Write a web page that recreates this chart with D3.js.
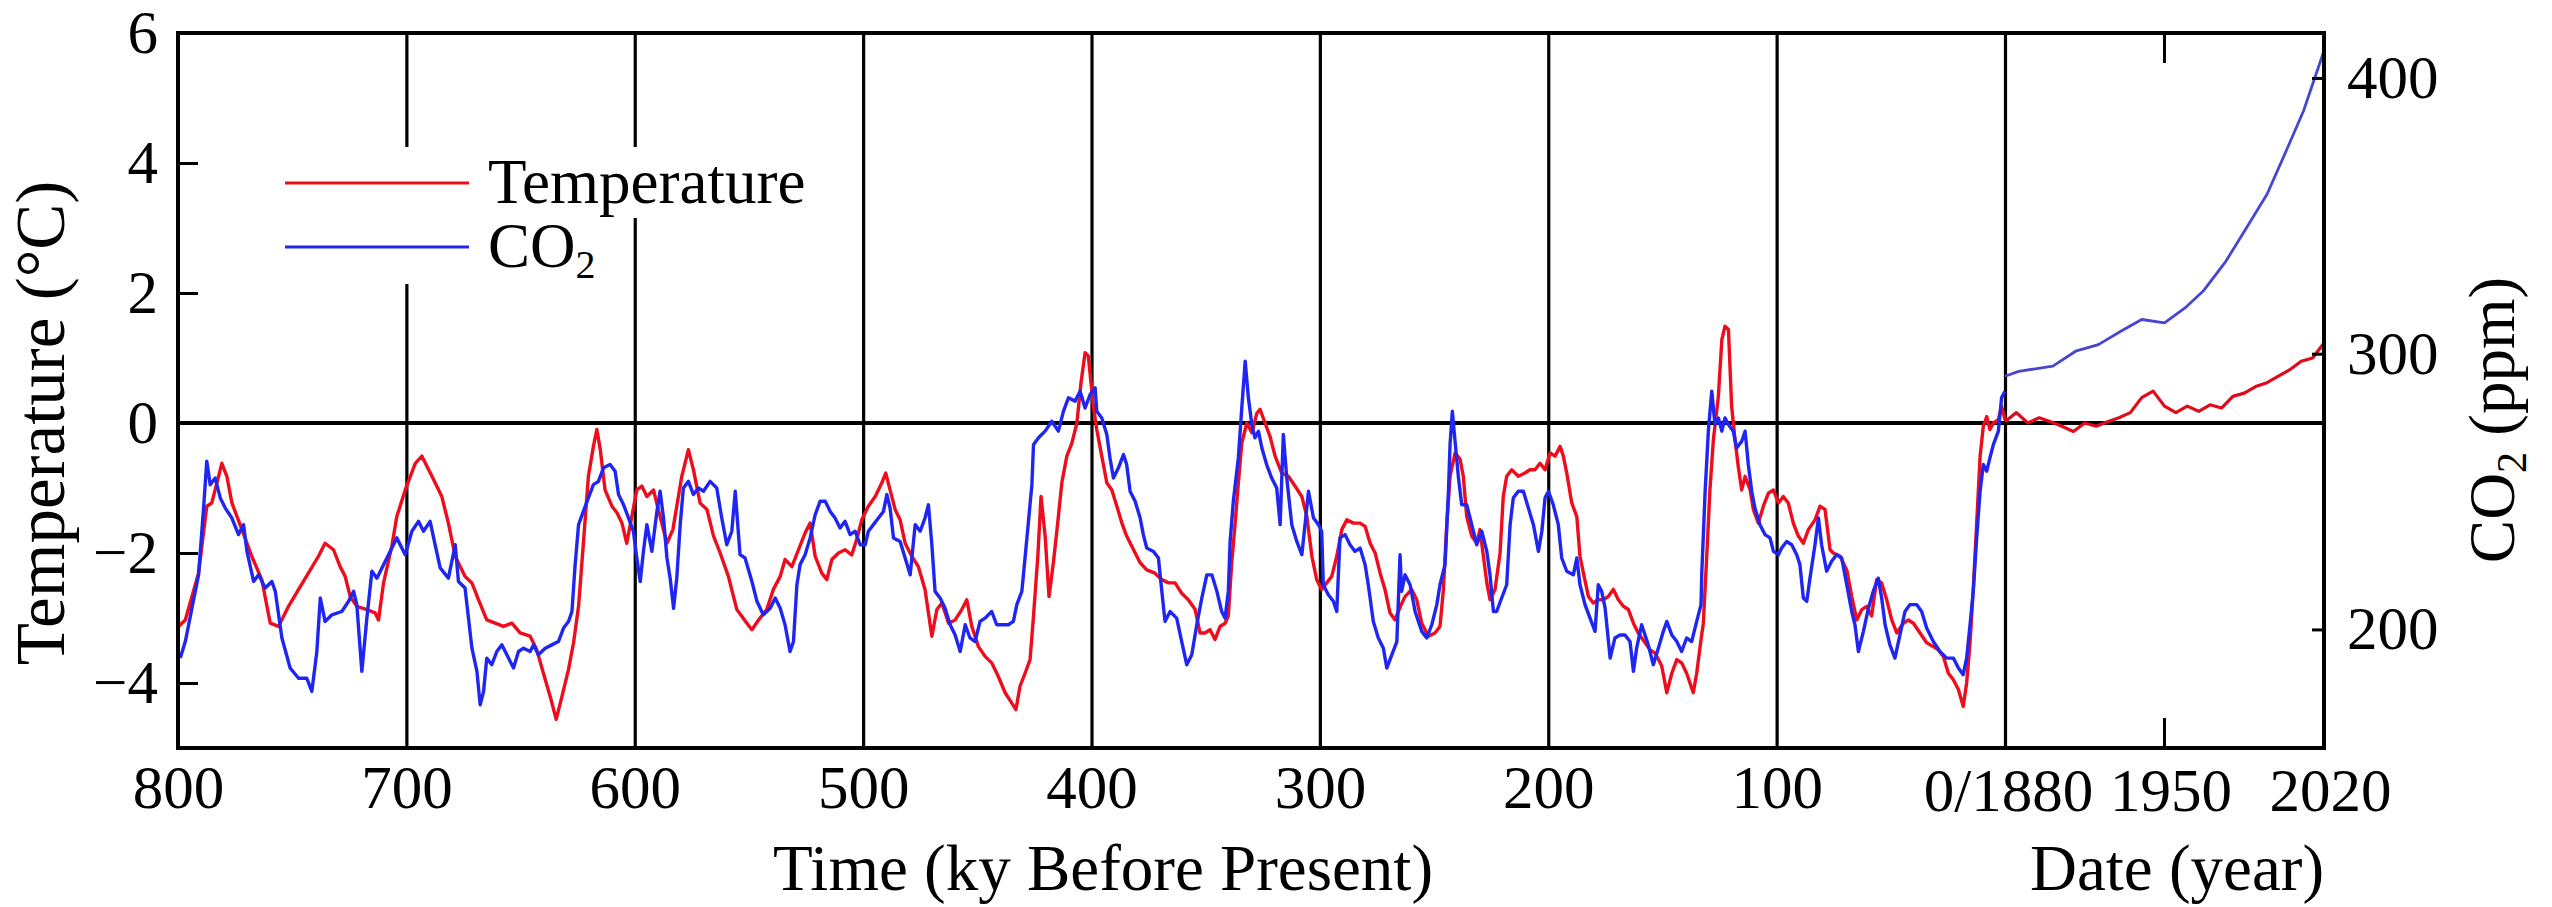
<!DOCTYPE html>
<html><head><meta charset="utf-8">
<script src="https://cdn.jsdelivr.net/npm/d3@7"></script>
<style>
body{margin:0;background:#fff}
svg{display:block}
text{font-family:"Liberation Serif","Times New Roman",serif;fill:#000}
</style>
</head><body>
<svg id="chart" width="2552" height="907"></svg>
<script>
// ---- Paleo temperature (ky before present, °C) ----
const kyTemp = [799.8,796.8,791.0,787.4,785.2,780.8,778.6,776.4,772.0,767.7,763.3,759.6,756.0,751.6,747.2,742.9,738.5,735.6,731.9,729.0,726.8,724.6,721.7,717.3,713.7,712.2,710.0,706.4,704.2,700.5,696.1,693.2,688.8,684.5,681.6,678.6,674.3,671.3,668.4,
664.8,661.1,657.5,653.8,650.2,645.8,642.9,640.0,637.0,634.4,631.9,629.0,626.8,624.6,622.5,620.3,618.1,616.6,615.1,613.0,610.0,607.8,605.6,603.5,601.3,599.1,596.9,594.7,591.8,588.9,585.9,583.3,581.6,579.4,576.5,574.3,571.4,568.4,565.5,562.6,559.0,555.3,550.9,548.7,545.8,542.2,539.3,536.3,
534.2,531.2,528.3,525.4,523.2,521.0,518.1,515.9,513.7,510.8,507.9,505.0,502.8,500.6,497.7,494.7,491.8,490.1,488.2,486.0,483.8,481.6,478.7,475.8,472.9,469.9,467.7,465.5,462.6,459.7,456.8,454.6,452.4,449.5,446.6,443.7,440.8,437.8,434.9,433.1,431.3,429.1,426.9,425.4,423.5,422.1,420.3,418.6,416.7,414.8,413.0,410.8,408.6,406.4,404.6,402.8,401.4,
399.2,397.7,395.5,393.3,391.1,388.9,386.7,384.6,381.6,378.7,375.8,372.2,369.2,366.3,363.4,360.5,357.6,354.6,352.5,350.3,348.1,345.9,343.7,341.5,340.1,338.6,337.1,335.7,334.2,332.0,329.8,327.6,326.2,324.0,321.8,319.6,316.7,313.8,310.9,307.9,305.7,303.5,301.4,299.2,297.0,294.8,292.6,290.4,288.2,285.3,282.4,280.2,278.0,275.8,273.6,271.5,269.3,267.1,
264.5,262.7,259.8,257.6,255.4,252.5,249.6,247.4,245.9,244.4,243.0,240.8,238.6,237.2,235.7,233.5,231.3,229.9,228.4,226.9,225.5,223.3,221.1,219.7,218.2,216.0,213.1,210.2,208.0,205.8,203.6,201.4,199.2,197.0,194.8,193.4,191.9,189.7,187.5,186.1,184.6,182.4,180.3,178.1,175.9,173.7,171.5,169.3,167.1,164.9,162.7,160.6,157.6,155.4,153.2,150.3,148.1,145.9,143.7,141.6,139.4,136.5,135.0,133.1,
132.1,130.6,129.2,127.7,125.5,124.0,122.6,121.1,119.7,118.2,116.8,115.3,113.8,111.6,110.2,108.0,105.8,103.6,101.4,99.2,97.1,94.9,92.7,90.5,88.3,86.1,83.2,81.0,78.8,76.6,75.2,72.2,69.3,67.1,64.9,62.7,60.6,58.4,56.2,54.0,51.8,49.6,47.4,44.5,42.3,40.1,37.2,34.3,31.4,29.2,27.0,24.8,22.6,20.4,18.3,16.8,15.3,13.9,12.4,10.9,9.5,8.0,6.6,5.1,2.9,1.5,0];
const tempPaleo = [-3.13,-3.03,-2.31,-1.28,-1.23,-0.62,-0.82,-1.23,-1.64,-2.05,-2.41,-3.08,-3.13,-2.82,-2.56,-2.31,-2.05,-1.85,-1.95,-2.21,-2.36,-2.67,-2.82,-2.87,-2.92,-3.03,-2.46,-1.90,-1.44,-1.03,-0.62,-0.51,-0.82,-1.13,-1.54,-2.05,-2.36,-2.46,-2.72,
-3.03,-3.08,-3.13,-3.08,-3.23,-3.28,-3.49,-3.85,-4.21,-4.56,-4.21,-3.79,-3.38,-2.82,-1.85,-0.82,-0.36,-0.10,-0.41,-1.03,-1.28,-1.38,-1.54,-1.85,-1.44,-1.03,-0.97,-1.13,-1.03,-1.44,-1.85,-1.64,-1.28,-0.82,-0.41,-0.72,-1.23,-1.33,-1.74,-2.0,-2.36,-2.87,-3.08,-3.18,-3.03,-2.87,-2.56,-2.36,
-2.10,-2.21,-1.95,-1.69,-1.54,-2.05,-2.31,-2.41,-2.10,-2.0,-1.95,-2.03,-1.79,-1.49,-1.28,-1.13,-0.92,-0.77,-1.03,-1.33,-1.49,-1.85,-2.05,-2.21,-2.56,-3.28,-2.87,-2.77,-3.08,-3.03,-2.87,-2.72,-3.13,-3.44,-3.59,-3.69,-3.90,-4.15,-4.31,-4.41,-4.05,-3.85,-3.64,-2.97,-2.05,-1.13,-1.74,-2.67,-2.15,-1.54,-0.92,-0.51,-0.31,0.0,0.62,1.08,1.03,
0.26,-0.10,-0.51,-0.92,-1.03,-1.28,-1.54,-1.74,-1.95,-2.15,-2.26,-2.31,-2.41,-2.46,-2.46,-2.62,-2.72,-2.87,-3.23,-3.23,-3.18,-3.33,-3.13,-3.08,-2.97,-2.15,-1.54,-0.92,-0.31,0.0,-0.15,0.15,0.21,0.0,-0.21,-0.51,-0.77,-0.82,-0.97,-1.13,-1.44,-2.05,-2.41,-2.56,-2.46,-2.36,-2.05,-1.64,-1.49,-1.54,-1.54,-1.59,-1.85,-2.0,-2.31,-2.56,-2.92,-3.03,
-2.80,-2.67,-2.56,-2.72,-3.08,-3.28,-3.23,-3.13,-2.56,-1.54,-0.82,-0.46,-0.56,-0.82,-1.44,-1.74,-1.85,-1.64,-2.05,-2.46,-2.72,-2.56,-2.0,-1.13,-0.82,-0.72,-0.82,-0.77,-0.72,-0.72,-0.62,-0.72,-0.46,-0.51,-0.36,-0.51,-0.77,-1.23,-1.44,-2.05,-2.31,-2.67,-2.77,-2.72,-2.72,-2.67,-2.56,-2.72,-2.82,-2.87,-3.08,-3.23,-3.38,-3.49,-3.54,-3.74,-4.15,-3.85,-3.64,-3.69,-3.85,-4.15,-3.85,-3.33,
-3.08,-2.05,-1.03,-0.26,0.41,1.28,1.49,1.44,0.26,-0.26,-0.67,-1.03,-0.82,-1.03,-1.33,-1.54,-1.28,-1.08,-1.03,-1.23,-1.13,-1.23,-1.54,-1.74,-1.85,-1.64,-1.49,-1.28,-1.33,-1.95,-2.0,-2.05,-2.26,-2.67,-3.03,-2.87,-2.82,-2.97,-2.41,-2.46,-2.72,-3.03,-3.23,-3.08,-3.03,-3.08,-3.23,-3.38,-3.44,-3.49,-3.59,-3.85,-3.95,-4.10,-4.36,-4.0,-3.38,-2.56,-1.54,-0.51,-0.05,0.10,-0.10,0.0,0.05,0.26,0.05];

// ---- Paleo CO2 (ky before present, ppm) ----
const kyCo2 = [799.0,796.8,793.9,791.0,788.8,787.4,785.9,783.7,781.5,779.3,776.4,773.5,771.3,769.8,766.9,764.7,761.8,758.9,757.4,754.5,750.9,747.2,743.6,741.4,739.2,737.7,735.6,732.6,728.3,725.3,723.1,721.7,719.5,717.3,715.1,712.9,710.0,707.1,704.2,700.5,697.6,694.7,692.5,689.6,687.4,685.2,681.6,678.6,677.2,674.3,671.3,669.1,667.7,
666.2,664.8,662.6,660.4,658.2,656.0,653.1,650.9,648.7,645.8,644.3,642.2,639.2,636.3,633.4,631.2,629.0,627.5,626.1,624.6,622.5,620.3,618.1,615.9,613.7,610.8,608.6,607.1,604.9,602.7,600.6,599.1,597.6,596.2,594.7,592.5,590.3,588.9,587.4,585.9,584.5,583.0,581.6,580.1,578.7,576.5,574.3,572.1,569.9,567.0,564.1,561.9,559.7,557.5,556.0,553.9,551.7,548.7,546.5,543.7,540.7,538.5,536.3,
534.2,532.0,530.5,529.0,527.6,525.4,523.2,521.0,518.8,516.6,514.4,512.3,510.1,507.9,505.7,503.5,501.3,499.1,497.7,495.5,493.3,491.1,489.6,488.2,486.7,483.8,481.6,479.4,477.2,475.0,472.9,471.4,469.9,468.5,466.3,464.1,461.9,459.7,457.5,455.3,453.2,451.0,448.8,446.6,443.7,441.5,439.3,436.4,434.2,432.7,430.5,429.1,427.6,426.1,425.4,423.2,420.3,417.4,414.5,412.3,410.1,407.2,405.0,402.8,400.6,398.4,
397.7,395.5,393.3,391.9,390.4,388.2,386.0,384.6,383.1,380.9,378.7,377.3,375.8,372.9,370.7,369.2,367.8,365.6,362.7,360.5,358.3,356.1,353.9,351.7,349.5,347.3,345.1,343.0,341.5,340.1,339.3,337.9,335.7,334.2,332.7,331.3,329.8,328.4,326.9,325.4,323.3,321.1,318.9,317.4,316.0,314.5,312.3,310.1,307.9,306.5,305.0,302.8,300.6,299.2,298.5,296.3,294.1,292.6,291.2,289.0,286.8,284.6,282.4,280.2,278.8,276.6,274.4,272.2,270.7,268.5,266.3,
264.9,264.2,262.7,260.5,258.3,255.4,253.2,251.0,248.8,247.4,245.2,243.7,243.0,242.0,240.8,239.3,237.9,235.7,233.5,231.3,229.1,226.9,225.5,224.0,222.6,220.4,218.2,216.7,215.3,213.1,210.9,208.7,206.5,204.3,202.8,201.4,199.9,197.8,195.6,194.1,191.9,189.0,187.5,186.1,183.9,181.7,179.5,178.1,176.6,175.1,172.9,170.8,168.6,166.4,164.2,162.7,161.3,159.1,156.2,154.0,151.8,149.6,148.1,145.9,143.7,141.6,139.4,137.2,135.0,133.1,
132.8,131.3,129.9,128.4,127.0,125.5,124.0,122.6,121.1,119.0,117.5,115.3,113.8,112.4,110.9,109.5,107.3,105.1,102.9,101.4,99.2,97.8,95.6,93.4,91.2,89.8,88.3,86.8,85.4,83.2,81.7,80.3,78.1,75.9,73.7,71.5,69.3,67.1,65.7,64.2,62.0,59.8,57.7,55.5,54.0,52.5,50.4,48.2,46.0,43.8,41.6,38.7,36.5,34.3,31.4,28.5,25.5,22.6,20.4,18.3,16.8,15.3,13.9,12.4,10.9,9.5,8.0,6.6,5.1,2.9,1.5,0];
const co2Paleo = [189.6,195.6,207.7,219.8,244.0,261.0,252.5,254.9,247.7,244.0,240.4,234.4,238.0,228.3,217.4,219.8,215.0,217.4,213.8,196.9,186.0,182.3,182.3,177.5,192.0,211.4,202.9,205.3,206.5,210.2,213.8,209.0,184.8,204.1,221.1,218.6,223.5,228.3,233.2,227.1,235.6,239.2,235.6,239.2,230.7,222.3,218.6,230.7,217.4,215.0,193.2,184.8,172.7,
177.5,189.6,187.2,192.0,194.4,190.8,186.0,192.0,193.2,192.0,194.4,190.8,193.2,194.4,195.6,200.5,202.9,206.5,223.5,238.0,242.8,247.7,252.5,253.7,258.6,259.8,257.4,248.9,245.2,240.4,235.6,225.9,217.4,228.3,238.0,228.3,242.8,250.1,240.4,225.9,218.6,207.7,218.6,238.0,251.3,253.7,248.9,251.3,250.1,253.7,251.3,240.4,230.7,235.6,250.1,227.1,225.9,217.4,210.2,205.3,207.7,211.4,207.7,
201.7,192.0,195.6,216.2,223.5,227.1,233.2,241.6,246.5,246.5,242.8,240.4,236.8,239.2,234.4,235.6,230.7,230.7,235.6,238.0,240.4,242.8,248.9,244.0,233.2,231.9,225.9,219.8,238.0,235.6,240.4,245.2,230.7,213.8,211.4,207.7,201.7,198.0,192.0,201.7,196.9,195.6,202.9,204.1,206.5,201.7,201.7,201.7,202.9,209.0,213.8,225.9,239.2,252.5,267.0,269.5,271.9,275.5,271.9,279.1,284.0,282.8,286.4,280.3,285.2,287.6,
279.1,276.7,270.7,262.2,254.9,258.6,263.4,259.8,250.1,246.5,240.4,234.4,229.5,228.3,225.9,213.8,202.9,206.5,204.1,195.6,187.2,190.8,201.7,211.4,219.8,219.8,213.8,206.5,204.1,213.8,231.9,246.5,262.2,280.3,297.3,284.0,274.3,269.5,271.9,265.8,259.8,254.9,251.3,238.0,270.7,254.9,238.0,231.9,227.1,238.0,250.1,240.4,238.0,235.6,216.2,212.6,210.2,206.5,233.2,234.4,230.7,228.3,229.5,223.5,216.2,202.9,196.9,193.2,186.0,190.8,195.6,
227.1,213.8,219.8,216.2,206.5,199.3,196.9,201.7,209.0,216.2,223.5,250.1,267.0,279.1,268.2,254.9,245.2,245.2,238.0,230.7,235.6,228.3,219.8,206.5,206.5,211.4,216.2,238.0,247.7,250.1,250.1,244.0,238.0,228.3,235.6,247.7,250.1,245.2,238.0,225.9,221.1,219.8,225.9,216.2,209.0,204.1,199.3,216.2,213.8,207.7,189.6,196.9,198.0,198.0,195.6,184.8,193.2,201.7,194.4,187.2,193.2,199.3,202.9,198.0,195.6,192.0,196.9,195.6,202.9,209.0,
219.8,250.1,271.9,286.4,274.3,276.7,271.9,276.7,274.3,271.9,265.8,268.2,271.9,259.8,250.1,244.0,238.0,234.4,233.2,228.3,227.1,229.5,231.9,230.7,227.1,223.5,211.4,210.2,218.6,230.7,240.4,230.7,221.1,224.7,227.1,225.9,216.2,206.5,201.7,192.0,199.3,207.7,213.8,218.6,211.4,201.7,194.4,189.6,198.0,206.5,209.0,209.0,206.5,200.5,195.6,192.0,189.6,189.6,186.0,183.6,189.6,201.7,213.8,233.2,250.1,259.8,257.4,262.2,267.0,271.9,284.0,286.4];

// ---- Instrumental period (year) ----
const yearsTemp = [1880,1885,1890,1895,1900,1905,1910,1915,1920,1925,1930,1935,1940,1945,1950,1955,1960,1965,1970,1975,1980,1985,1990,1995,2000,2005,2010,2015,2020];
const tempModern = [0.02,0.16,0.0,0.08,0.02,-0.05,-0.13,0.0,-0.05,0.02,0.08,0.16,0.39,0.49,0.26,0.16,0.26,0.18,0.28,0.23,0.41,0.46,0.56,0.62,0.72,0.82,0.95,1.0,1.23];
const yearsCo2 = [1880,1886,1901,1911,1921,1931,1940,1950,1959,1967,1977,1986,1995,2004,2011,2019,2020];
const co2Modern = [291.8,293.6,295.5,300.9,303.3,308.2,312.4,311.2,316.6,322.7,333.6,345.7,357.8,374.7,388.0,407.4,410.0];

// ---- Axis ticks / labels ----
const tempTicks = [6,4,2,0,-2,-4];
const kyTicks = [800,700,600,500,400,300,200,100];
const kyGrid = [700,600,500,400,300,200,100,0];
const yearTicks = [1880,1950,2020];
const co2Ticks = [400,300,200];

// ---- Layout ----
const L = 178, R = 2324, T = 33, B = 748, XZ = 2005;
const svg = d3.select("#chart");
svg.append("rect").attr("width",2552).attr("height",907).attr("fill","#fff");

const xKy = d3.scaleLinear().domain([800,0]).range([L,XZ]);
const xYr = d3.scaleLinear().domain([1880,2020]).range([XZ,R]);
const yT = d3.scaleLinear().domain([-5,6]).range([B,T]);
const yC = d3.scaleLinear().domain([157,416.3]).range([B,T]);

const FS = 61;

// gridlines (vertical)
const grid = svg.append("g").attr("transform",`translate(0,${B})`)
  .call(d3.axisBottom(xKy).tickValues(kyGrid).tickSize(-(B-T)).tickFormat(""));
grid.select(".domain").remove();
grid.selectAll("line").attr("stroke","#000").attr("stroke-width",3.2);

// 1950 small ticks top & bottom
[[B,-30],[T,30]].forEach(([yy,len])=>{
  svg.append("line").attr("x1",xYr(1950)).attr("x2",xYr(1950))
    .attr("y1",yy).attr("y2",yy+len).attr("stroke","#000").attr("stroke-width",3);
});

// zero line
svg.append("line").attr("x1",L).attr("x2",R).attr("y1",yT(0)).attr("y2",yT(0))
  .attr("stroke","#000").attr("stroke-width",4);

// Legend backgrounds (hide gridlines behind legend)
svg.append("rect").attr("x",268).attr("y",147).attr("width",210).attr("height",137).attr("fill","#fff");
svg.append("rect").attr("x",480).attr("y",147).attr("width",356).attr("height",71).attr("fill","#fff");
svg.append("rect").attr("x",480).attr("y",218).attr("width",125).attr("height",66).attr("fill","#fff");

// Data lines
const line = d3.line().x(d=>d[0]).y(d=>d[1]);
const tempPts = kyTemp.map((k,i)=>[xKy(k), yT(tempPaleo[i])]);
const co2Pts = kyCo2.map((k,i)=>[xKy(k), yC(co2Paleo[i])]);
const tempModPts = yearsTemp.map((y,i)=>[xYr(y), yT(tempModern[i])]);
const co2ModPts = yearsCo2.map((y,i)=>[xYr(y), yC(co2Modern[i])]);

svg.append("path").attr("d",line(tempPts)).attr("fill","none").attr("stroke","#ee0d1c").attr("stroke-width",3.4).attr("stroke-linejoin","round");
svg.append("path").attr("d",line(co2Pts)).attr("fill","none").attr("stroke","#2026f2").attr("stroke-width",3.4).attr("stroke-linejoin","round");
svg.append("path").attr("d",line(tempModPts)).attr("fill","none").attr("stroke","#e00a1a").attr("stroke-width",3.2).attr("stroke-linejoin","round");
svg.append("path").attr("d",line(co2ModPts)).attr("fill","none").attr("stroke","#4646d2").attr("stroke-width",2.8).attr("stroke-linejoin","round");

// Frame
svg.append("rect").attr("x",L).attr("y",T).attr("width",R-L).attr("height",B-T)
  .attr("fill","none").attr("stroke","#000").attr("stroke-width",4);

// Left axis
const ax = svg.append("g").attr("transform",`translate(${L},0)`)
  .call(d3.axisLeft(yT).tickValues(tempTicks).tickSize(-20).tickPadding(20));
ax.select(".domain").remove();
ax.selectAll("line").attr("stroke","#000").attr("stroke-width",3);
ax.selectAll("text").attr("font-size",FS).attr("font-family","Liberation Serif");

// Right axis
const ar = svg.append("g").attr("transform",`translate(${R},0)`)
  .call(d3.axisRight(yC).tickValues(co2Ticks).tickSize(-12).tickPadding(23));
ar.select(".domain").remove();
ar.selectAll("line").attr("stroke","#000").attr("stroke-width",3);
ar.selectAll("text").attr("font-size",FS).attr("font-family","Liberation Serif");

// Bottom axis (ky)
const ab = svg.append("g").attr("transform",`translate(0,${B})`)
  .call(d3.axisBottom(xKy).tickValues(kyTicks).tickSize(0).tickPadding(17));
ab.select(".domain").remove();
ab.selectAll("text").attr("font-size",FS).attr("font-family","Liberation Serif");

// Bottom axis (years)
const ay = svg.append("g").attr("transform",`translate(0,${B})`)
  .call(d3.axisBottom(xYr).tickValues(yearTicks).tickSize(0).tickPadding(20)
    .tickFormat(d=> d===1880 ? "0/1880" : String(d)));
ay.select(".domain").remove();
ay.selectAll("text").attr("font-size",FS).attr("font-family","Liberation Serif")
  .attr("dx",d=> d===1880 ? 3 : 6);

// Axis titles
svg.append("text").attr("transform",`translate(64,423) rotate(-90)`)
  .attr("text-anchor","middle").attr("font-size",69).text("Temperature (°C)");
svg.append("text").attr("x",1103).attr("y",890).attr("text-anchor","middle")
  .attr("font-size",65).text("Time (ky Before Present)");
svg.append("text").attr("x",2177).attr("y",890).attr("text-anchor","middle")
  .attr("font-size",65).text("Date (year)");
const co2Lab = svg.append("text").attr("transform",`translate(2514,420) rotate(-90)`)
  .attr("text-anchor","middle").attr("font-size",65);
co2Lab.append("tspan").text("CO");
co2Lab.append("tspan").attr("font-size",42).attr("dy",12).text("2");
co2Lab.append("tspan").attr("dy",-12).text(" (ppm)");

// Legend
svg.append("line").attr("x1",285).attr("x2",469).attr("y1",183).attr("y2",183)
  .attr("stroke","#ee0d1c").attr("stroke-width",3.2);
svg.append("line").attr("x1",285).attr("x2",469).attr("y1",247).attr("y2",247)
  .attr("stroke","#2026f2").attr("stroke-width",3.2);
svg.append("text").attr("x",488).attr("y",203).attr("font-size",63).text("Temperature");
const lg = svg.append("text").attr("x",488).attr("y",267).attr("font-size",63);
lg.append("tspan").text("CO");
lg.append("tspan").attr("font-size",40).attr("dy",11).text("2");
</script>
</body></html>
